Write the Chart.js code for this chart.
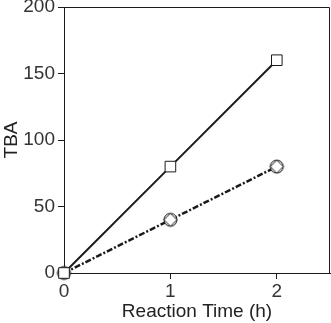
<!DOCTYPE html>
<html>
<head>
<meta charset="utf-8">
<script src="https://cdn.jsdelivr.net/npm/chart.js@4/dist/chart.umd.min.js"></script>
<style>
  html, body { margin: 0; padding: 0; background: #fff; }
  #wrap { width: 331px; height: 323px; }
</style>
</head>
<body>
<div id="wrap"><canvas id="chart" width="331" height="323"></canvas></div>
<script>
const times = [0, 1, 2];
const squareSeries = [0, 80, 160];
const circleSeries = [0, 40, 80];
const xTicks = [0, 1, 2];
const yTicks = [0, 50, 100, 150, 200];

const FONT = { family: "'Liberation Sans', Arial, sans-serif", size: 19 };
const INK = '#1a1a1a';

// circle with a diamond inside, as in the reference marker
function crossedCircle(r) {
  const size = r * 2 + 4;
  const c = document.createElement('canvas');
  c.width = size;
  c.height = size;
  const ctx = c.getContext('2d');
  const m = size / 2;
  ctx.fillStyle = '#fff';
  ctx.strokeStyle = INK;
  ctx.lineWidth = 1;
  ctx.beginPath();
  ctx.arc(m, m, r, 0, Math.PI * 2);
  ctx.fill();
  ctx.stroke();
  ctx.beginPath();
  ctx.moveTo(m, m - r);
  ctx.lineTo(m + r, m);
  ctx.lineTo(m, m + r);
  ctx.lineTo(m - r, m);
  ctx.closePath();
  ctx.stroke();
  return c;
}

const frame = {
  id: 'frame',
  afterDatasetsDraw(chart) {
    const { ctx, chartArea: a } = chart;
    ctx.save();
    ctx.strokeStyle = INK;
    ctx.lineWidth = 1;
    ctx.beginPath();
    ctx.moveTo(a.left, a.top + 0.5);
    ctx.lineTo(a.right - 0.5, a.top + 0.5);
    ctx.lineTo(a.right - 0.5, a.bottom);
    ctx.stroke();
    ctx.restore();
  }
};

new Chart(document.getElementById('chart'), {
  type: 'scatter',
  data: {
    datasets: [
      {
        label: 'circles',
        data: times.map((t, i) => ({ x: t, y: circleSeries[i] })),
        showLine: true,
        borderColor: INK,
        borderWidth: 2.5,
        borderDash: [6, 2, 2, 2],
        pointStyle: crossedCircle(6.5),
        pointRadius: 6.5,
        clip: false,
        order: 2,
      },
      {
        label: 'squares',
        data: times.map((t, i) => ({ x: t, y: squareSeries[i] })),
        showLine: true,
        borderColor: INK,
        borderWidth: 2,
        pointStyle: 'rect',
        pointRadius: 7.5,
        pointBackgroundColor: '#fff',
        pointBorderColor: INK,
        pointBorderWidth: 1,
        clip: false,
        order: 1,
      },
    ],
  },
  options: {
    responsive: false,
    animation: false,
    devicePixelRatio: 1,
    layout: { autoPadding: false, padding: { top: 7, right: 1, left: 0, bottom: 0 } },
    plugins: { legend: { display: false }, tooltip: { enabled: false } },
    scales: {
      x: {
        type: 'linear',
        min: 0,
        max: 2.5,
        afterBuildTicks: (s) => { s.ticks = xTicks.map(v => ({ value: v })); },
        afterFit: (s) => { s.height = 50; s.paddingLeft = 0; s.paddingRight = 0; },
        grid: { display: true, drawOnChartArea: false, drawTicks: true, tickLength: 6, color: INK },
        border: { display: true, color: INK, width: 1 },
        ticks: { color: '#333', font: FONT, padding: 1, maxRotation: 0 },
        title: { display: true, text: 'Reaction Time (h)', color: '#222', font: FONT, padding: { top: 0, bottom: 0 } },
      },
      y: {
        type: 'linear',
        min: 0,
        max: 200,
        afterBuildTicks: (s) => { s.ticks = yTicks.map(v => ({ value: v })); },
        afterFit: (s) => { s.width = 64; s.paddingTop = 0; s.paddingBottom = 0; },
        grid: { display: true, drawOnChartArea: false, drawTicks: true, tickLength: 6, color: INK },
        border: { display: true, color: INK, width: 1 },
        ticks: { color: '#333', font: FONT, padding: 3 },
        title: { display: true, text: 'TBA', color: '#222', font: FONT, padding: { top: 0, bottom: 0 } },
      },
    },
  },
  plugins: [frame],
});
</script>
</body>
</html>
